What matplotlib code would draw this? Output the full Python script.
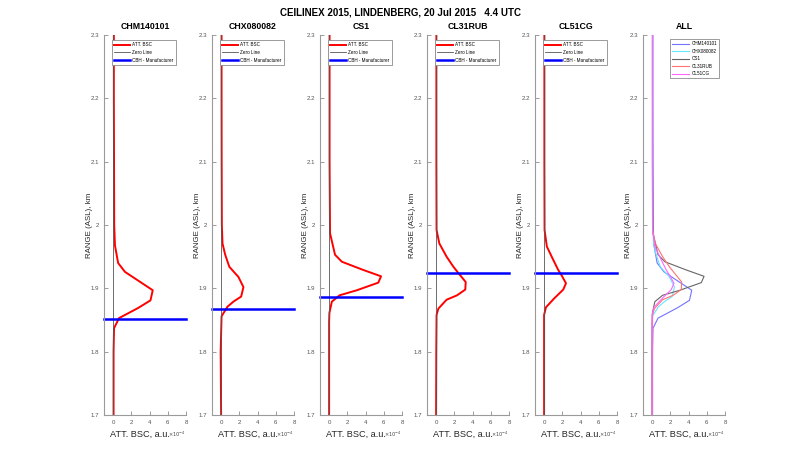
import matplotlib
matplotlib.use("Agg")
import matplotlib.pyplot as plt
from matplotlib.ticker import FuncFormatter

plt.rcParams['font.family'] = ['Liberation Sans', 'DejaVu Sans']

names = ['CHM140101', 'CHX080082', 'CS1', 'CL31RUB', 'CL51CG']

# heights in km, attenuated backscatter in 1e-4 a.u.
h_chm = [1.70, 1.80, 1.837, 1.853, 1.869, 1.881, 1.897, 1.926, 1.94, 1.968, 2.0, 2.1, 2.2, 2.3]
v_chm = [0.05, 0.05, 0.1, 0.65, 2.75, 4.1, 4.35, 1.3, 0.55, 0.2, 0.12, 0.1, 0.08, 0.08]

h_chx = [1.70, 1.80, 1.856, 1.871, 1.879, 1.887, 1.902, 1.918, 1.934, 1.953, 1.971, 2.0, 2.1, 2.2, 2.3]
v_chx = [0.0, -0.05, 0.05, 0.7, 1.35, 2.2, 2.45, 1.9, 0.9, 0.45, 0.15, 0.08, 0.06, 0.05, 0.05]

h_cs1 = [1.70, 1.80, 1.847, 1.861, 1.879, 1.889, 1.897, 1.909, 1.919, 1.929, 1.942, 1.953, 1.987, 2.1, 2.2, 2.3]
v_cs1 = [0.0, 0.0, 0.0, 0.03, 0.3, 1.15, 3.05, 5.4, 5.7, 3.75, 1.4, 0.65, 0.1, 0.05, 0.05, 0.05]

h_cl31 = [1.70, 1.80, 1.858, 1.868, 1.882, 1.889, 1.898, 1.91, 1.924, 1.934, 1.95, 1.971, 1.992, 2.1, 2.2, 2.3]
v_cl31 = [0.0, 0.02, 0.05, 0.25, 1.15, 2.3, 3.2, 3.25, 2.45, 1.9, 1.15, 0.35, 0.05, 0.03, 0.03, 0.03]

h_cl51 = [1.70, 1.80, 1.858, 1.87, 1.884, 1.898, 1.908, 1.921, 1.929, 1.945, 1.966, 1.992, 2.1, 2.2, 2.3]
v_cl51 = [0.0, 0.0, 0.0, 0.2, 1.1, 2.1, 2.4, 1.9, 1.55, 1.0, 0.3, 0.05, 0.03, 0.03, 0.03]

heights = [h_chm, h_chx, h_cs1, h_cl31, h_cl51]
values = [v_chm, v_chx, v_cs1, v_cl31, v_cl51]
cbh = [1.851, 1.868, 1.887, 1.924, 1.925]

all_colors = [(0.45, 0.45, 1.0), (0.4, 0.9, 1.0), (0.4, 0.4, 0.4), (1.0, 0.45, 0.45), (1.0, 0.4, 1.0)]

fig = plt.figure(figsize=(8, 4.68), dpi=100)
fig.suptitle('CEILINEX 2015, LINDENBERG, 20 Jul 2015   4.4 UTC',
             fontsize=7, fontweight='bold', y=0.985)

lefts = [104, 212, 320, 427, 535, 643]
axes = []
for L in lefts:
    axes.append(fig.add_axes([L / 800, 1 - 415 / 468, 82 / 800, 380 / 468]))

def style(ax, title):
    ax.set_xlim(-1, 8)
    ax.set_ylim(1.7, 2.3)
    ax.set_xticks([0, 2, 4, 6, 8])
    ax.set_yticks([1.7, 1.8, 1.9, 2.0, 2.1, 2.2, 2.3])
    ax.yaxis.set_major_formatter(FuncFormatter(lambda v, p: '%g' % round(v, 2)))
    for s in ['top', 'right']:
        ax.spines[s].set_visible(False)
    for s in ['left', 'bottom']:
        ax.spines[s].set_color('#9a9a9a')
        ax.spines[s].set_linewidth(0.8)
    ax.tick_params(direction='in', length=3, width=0.6, colors='#8c8c8c',
                   labelsize=4.4, labelcolor='#555555', pad=3.5)
    ax.set_title(title, fontsize=6.3, fontweight='bold', pad=4)
    ax.set_ylabel('RANGE (ASL), km', fontsize=5.7, color='#262626')
    ax.yaxis.set_label_coords(-11 / 82, 0.5)
    ax.set_xlabel('ATT. BSC, a.u.', fontsize=6.6, color='#262626')
    ax.xaxis.set_label_coords(0.433, -0.038)
    ax.text(1.0, -0.052, r'$\times10^{-4}$', transform=ax.transAxes, fontsize=3.6,
            ha='right', va='center', color='#444444')

def legend(ax, **kw):
    leg = ax.legend(borderaxespad=0, handletextpad=0.5, fancybox=False, framealpha=1, **kw)
    leg.get_frame().set_edgecolor('#8c8c8c')
    leg.get_frame().set_linewidth(0.6)

for i in range(5):
    ax = axes[i]
    ax.plot(values[i], heights[i], color='red', lw=1.4, label='ATT. BSC')
    ax.plot([0, 0], [1.7, 2.3], color='#555555', lw=0.6, label='Zero Line')
    ax.plot([-1, 8], [cbh[i], cbh[i]], color='blue', lw=1.8, label='CBH - Manufacturer',
            clip_on=False)
    style(ax, names[i])
    legend(ax, loc='upper left', bbox_to_anchor=(0.098, 0.987), fontsize=3.3,
           handlelength=3.4, labelspacing=0.6, borderpad=0.5)

ax = axes[5]
for i in range(5):
    ax.plot(values[i], heights[i], color=all_colors[i], lw=0.8, label=names[i])
style(ax, 'ALL')
legend(ax, loc='upper right', bbox_to_anchor=(0.927, 0.989), fontsize=3.3,
       handlelength=3.7, labelspacing=0.55, borderpad=0.45)

fig.savefig('out.png', dpi=100)
